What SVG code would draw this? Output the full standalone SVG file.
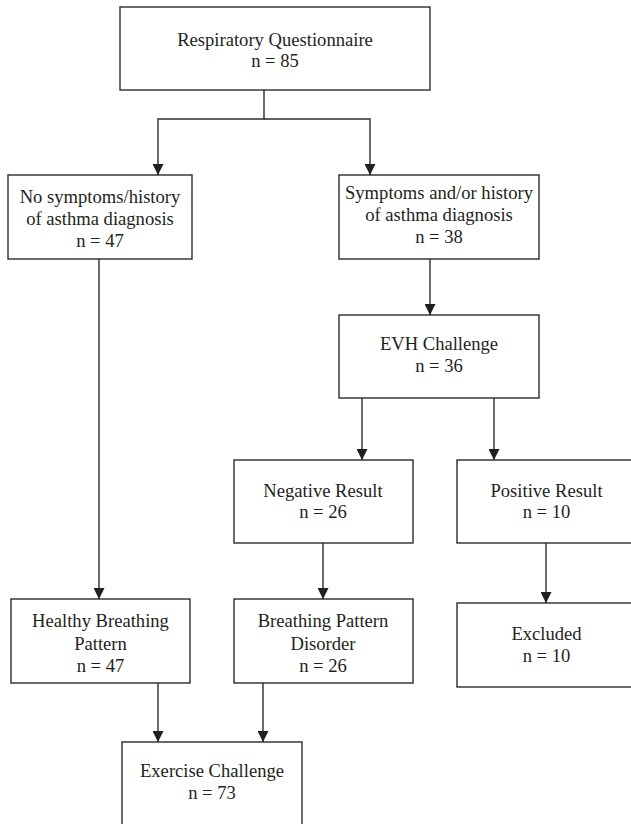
<svg xmlns="http://www.w3.org/2000/svg" width="631" height="824" viewBox="0 0 631 824">
  <defs>
    <style>
      .box { fill: #ffffff; stroke: #2b2b2b; stroke-width: 1.4; }
      .lbl { font-family: "Liberation Serif", "Times New Roman", serif; font-size: 18.6px; fill: #231f20; text-anchor: middle; }
      .conn { fill: none; stroke: #2b2b2b; stroke-width: 1.4; }
    </style>
    <marker id="arr" viewBox="0 0 10 10" refX="10" refY="5" markerWidth="11" markerHeight="11" orient="auto" markerUnits="userSpaceOnUse">
      <path d="M0,0 L10,5 L0,10 z" fill="#231f20"/>
    </marker>
  </defs>
  <rect width="631" height="824" fill="#ffffff"/>

  <g id="connectors">
    <path class="conn" d="M264,90 V119 H158 V175" marker-end="url(#arr)"/>
    <path class="conn" d="M264,119 H370 V175" marker-end="url(#arr)"/>
    <path class="conn" d="M99,259 V599" marker-end="url(#arr)"/>
    <path class="conn" d="M430,259 V315" marker-end="url(#arr)"/>
    <path class="conn" d="M362,398 V460" marker-end="url(#arr)"/>
    <path class="conn" d="M494,398 V460" marker-end="url(#arr)"/>
    <path class="conn" d="M323,543 V599" marker-end="url(#arr)"/>
    <path class="conn" d="M546,543 V603" marker-end="url(#arr)"/>
    <path class="conn" d="M158,683 V742" marker-end="url(#arr)"/>
    <path class="conn" d="M263,683 V742" marker-end="url(#arr)"/>
  </g>

  <g id="questionnaire">
    <rect class="box" x="120" y="7" width="310" height="83"/>
    <text class="lbl" x="275" y="46">Respiratory Questionnaire</text>
    <text class="lbl" x="275" y="67">n = 85</text>
  </g>

  <g id="no-symptoms">
    <rect class="box" x="8" y="175" width="184" height="84"/>
    <text class="lbl" x="100" y="203">No symptoms/history</text>
    <text class="lbl" x="100" y="225">of asthma diagnosis</text>
    <text class="lbl" x="100" y="247">n = 47</text>
  </g>

  <g id="symptoms">
    <rect class="box" x="339" y="175" width="200" height="84"/>
    <text class="lbl" x="439" y="199">Symptoms and/or history</text>
    <text class="lbl" x="439" y="221">of asthma diagnosis</text>
    <text class="lbl" x="439" y="243">n = 38</text>
  </g>

  <g id="evh">
    <rect class="box" x="339" y="315" width="200" height="83"/>
    <text class="lbl" x="439" y="350">EVH Challenge</text>
    <text class="lbl" x="439" y="372">n = 36</text>
  </g>

  <g id="negative">
    <rect class="box" x="234" y="460" width="179" height="83"/>
    <text class="lbl" x="323" y="497">Negative Result</text>
    <text class="lbl" x="323" y="518">n = 26</text>
  </g>

  <g id="positive">
    <rect class="box" x="457" y="460" width="180" height="83"/>
    <text class="lbl" x="546.5" y="497">Positive Result</text>
    <text class="lbl" x="546.5" y="518">n = 10</text>
  </g>

  <g id="healthy">
    <rect class="box" x="11" y="599" width="179" height="84"/>
    <text class="lbl" x="100.5" y="627">Healthy Breathing</text>
    <text class="lbl" x="100.5" y="650">Pattern</text>
    <text class="lbl" x="100.5" y="672">n = 47</text>
  </g>

  <g id="bpd">
    <rect class="box" x="234" y="599" width="179" height="84"/>
    <text class="lbl" x="323" y="627">Breathing Pattern</text>
    <text class="lbl" x="323" y="650">Disorder</text>
    <text class="lbl" x="323" y="672">n = 26</text>
  </g>

  <g id="excluded">
    <rect class="box" x="457" y="603" width="180" height="84"/>
    <text class="lbl" x="546.5" y="640">Excluded</text>
    <text class="lbl" x="546.5" y="662">n = 10</text>
  </g>

  <g id="exercise">
    <rect class="box" x="122" y="742" width="180" height="86"/>
    <text class="lbl" x="212" y="777">Exercise Challenge</text>
    <text class="lbl" x="212" y="799">n = 73</text>
  </g>
</svg>
